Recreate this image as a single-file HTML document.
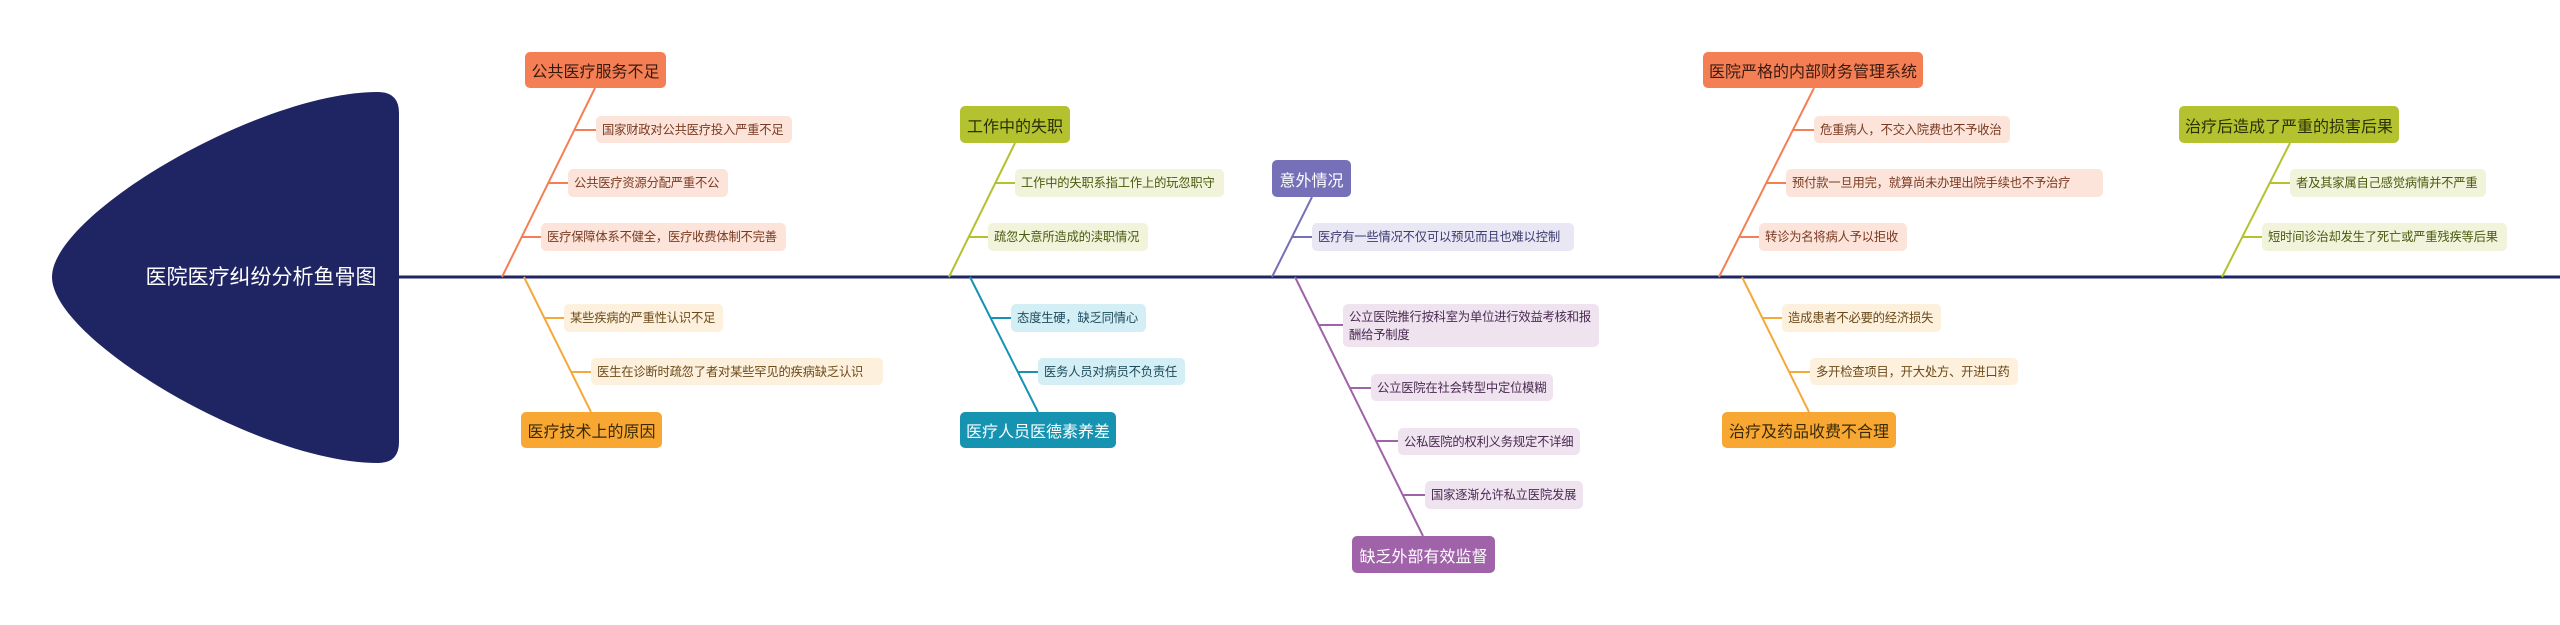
<!DOCTYPE html>
<html><head><meta charset="utf-8"><style>
html,body{margin:0;padding:0;background:#fff;}
#c{position:relative;width:2560px;height:625px;overflow:hidden;font-family:"Liberation Sans","Noto Sans CJK SC",sans-serif;}
svg{position:absolute;left:0;top:0;}
.m{position:absolute;box-sizing:border-box;border-radius:5px;font-size:16px;display:flex;align-items:center;justify-content:center;white-space:nowrap;}
.s{position:absolute;box-sizing:border-box;border-radius:5px;font-size:12.3px;display:flex;align-items:center;padding-left:6px;white-space:nowrap;line-height:18px;letter-spacing:-0.2px;}
</style></head><body><div id="c">
<svg width="2560" height="625">
<path d="M378 92 Q399 92 399 113 L399 442 Q399 463 378 463 C260 463 52 340 52 277 C52 214 260 92 378 92 Z" fill="#1f2563"/>
<line x1="399" y1="277" x2="2560" y2="277" stroke="#1f2563" stroke-width="3"/>
<g fill="none" stroke-width="2">
<g stroke="#f47f54"><line x1="595" y1="88" x2="502" y2="277"/><line x1="574" y1="130" x2="596" y2="130"/><line x1="548" y1="183" x2="568" y2="183"/><line x1="522" y1="237" x2="541" y2="237"/></g>
<g stroke="#f5a93a"><line x1="524" y1="277" x2="591" y2="412"/><line x1="544" y1="318" x2="564" y2="318"/><line x1="571" y1="372" x2="591" y2="372"/></g>
<g stroke="#b3c22e"><line x1="1015" y1="143" x2="949" y2="277"/><line x1="995" y1="183" x2="1015" y2="183"/><line x1="969" y1="237" x2="988" y2="237"/></g>
<g stroke="#1593b0"><line x1="970" y1="277" x2="1038" y2="412"/><line x1="991" y1="318" x2="1011" y2="318"/><line x1="1018" y1="372" x2="1038" y2="372"/></g>
<g stroke="#7570b8"><line x1="1312" y1="197" x2="1272" y2="277"/><line x1="1292" y1="237" x2="1312" y2="237"/></g>
<g stroke="#a062a8"><line x1="1295" y1="277" x2="1423" y2="536"/><line x1="1319" y1="325" x2="1343" y2="325"/><line x1="1350" y1="388" x2="1371" y2="388"/><line x1="1376" y1="441" x2="1398" y2="441"/><line x1="1403" y1="495" x2="1425" y2="495"/></g>
<g stroke="#f47f54"><line x1="1814" y1="88" x2="1719" y2="277"/><line x1="1793" y1="130" x2="1814" y2="130"/><line x1="1766" y1="183" x2="1786" y2="183"/><line x1="1739" y1="237" x2="1759" y2="237"/></g>
<g stroke="#f5a93a"><line x1="1742" y1="277" x2="1809" y2="412"/><line x1="1762" y1="318" x2="1782" y2="318"/><line x1="1789" y1="372" x2="1810" y2="372"/></g>
<g stroke="#b3c22e"><line x1="2290" y1="143" x2="2222" y2="277"/><line x1="2270" y1="183" x2="2290" y2="183"/><line x1="2242" y1="237" x2="2262" y2="237"/></g>
</g>
<text x="261" y="284" fill="#fff" font-size="21" text-anchor="middle" font-family="Liberation Sans, Noto Sans CJK SC, sans-serif">医院医疗纠纷分析鱼骨图</text>
</svg>

<div class="m" style="left:525px;top:52px;width:141px;height:36px;background:#f47f54;color:#3a1a10">公共医疗服务不足</div>
<div class="s" style="left:596px;top:116px;width:196px;height:27px;background:#fce4da;color:#7a3a22">国家财政对公共医疗投入严重不足</div>
<div class="s" style="left:568px;top:169px;width:160px;height:28px;background:#fce4da;color:#7a3a22">公共医疗资源分配严重不公</div>
<div class="s" style="left:541px;top:223px;width:245px;height:28px;background:#fce4da;color:#7a3a22">医疗保障体系不健全，医疗收费体制不完善</div>
<div class="s" style="left:564px;top:304px;width:159px;height:28px;background:#fdf0dc;color:#6b4a1a">某些疾病的严重性认识不足</div>
<div class="s" style="left:591px;top:358px;width:292px;height:27px;background:#fdf0dc;color:#6b4a1a">医生在诊断时疏忽了者对某些罕见的疾病缺乏认识</div>
<div class="m" style="left:521px;top:412px;width:141px;height:36px;background:#f8a832;color:#3a2a0a">医疗技术上的原因</div>

<div class="m" style="left:960px;top:106px;width:110px;height:37px;background:#b3c22e;color:#2a3005">工作中的失职</div>
<div class="s" style="left:1015px;top:169px;width:209px;height:28px;background:#f1f4db;color:#4a5a10">工作中的失职系指工作上的玩忽职守</div>
<div class="s" style="left:988px;top:223px;width:160px;height:28px;background:#f1f4db;color:#4a5a10">疏忽大意所造成的渎职情况</div>
<div class="s" style="left:1011px;top:304px;width:135px;height:28px;background:#d3eef5;color:#1d4a5a">态度生硬，缺乏同情心</div>
<div class="s" style="left:1038px;top:358px;width:147px;height:27px;background:#d3eef5;color:#1d4a5a">医务人员对病员不负责任</div>
<div class="m" style="left:960px;top:412px;width:156px;height:36px;background:#1593b0;color:#fff">医疗人员医德素养差</div>

<div class="m" style="left:1272px;top:160px;width:79px;height:37px;background:#7570b8;color:#fff">意外情况</div>
<div class="s" style="left:1312px;top:223px;width:262px;height:28px;background:#e8e7f3;color:#3d3a70">医疗有一些情况不仅可以预见而且也难以控制</div>
<div class="s" style="left:1343px;top:304px;width:256px;height:43px;background:#efe3f0;color:#4a2a50;white-space:normal;padding-right:2px">公立医院推行按科室为单位进行效益考核和报酬给予制度</div>
<div class="s" style="left:1371px;top:374px;width:182px;height:27px;background:#efe3f0;color:#4a2a50">公立医院在社会转型中定位模糊</div>
<div class="s" style="left:1398px;top:428px;width:182px;height:27px;background:#efe3f0;color:#4a2a50">公私医院的权利义务规定不详细</div>
<div class="s" style="left:1425px;top:481px;width:158px;height:28px;background:#efe3f0;color:#4a2a50">国家逐渐允许私立医院发展</div>
<div class="m" style="left:1352px;top:536px;width:143px;height:37px;background:#a062a8;color:#fff">缺乏外部有效监督</div>

<div class="m" style="left:1703px;top:52px;width:220px;height:36px;background:#f47f54;color:#3a1a10">医院严格的内部财务管理系统</div>
<div class="s" style="left:1814px;top:116px;width:196px;height:27px;background:#fce4da;color:#7a3a22">危重病人，不交入院费也不予收治</div>
<div class="s" style="left:1786px;top:169px;width:317px;height:28px;background:#fce4da;color:#7a3a22">预付款一旦用完，就算尚未办理出院手续也不予治疗</div>
<div class="s" style="left:1759px;top:223px;width:148px;height:28px;background:#fce4da;color:#7a3a22">转诊为名将病人予以拒收</div>
<div class="s" style="left:1782px;top:304px;width:159px;height:28px;background:#fdf0dc;color:#6b4a1a">造成患者不必要的经济损失</div>
<div class="s" style="left:1810px;top:358px;width:208px;height:27px;background:#fdf0dc;color:#6b4a1a">多开检查项目，开大处方、开进口药</div>
<div class="m" style="left:1722px;top:412px;width:174px;height:36px;background:#f8a832;color:#3a2a0a">治疗及药品收费不合理</div>

<div class="m" style="left:2179px;top:106px;width:220px;height:37px;background:#b3c22e;color:#2a3005">治疗后造成了严重的损害后果</div>
<div class="s" style="left:2290px;top:169px;width:196px;height:28px;background:#f1f4db;color:#4a5a10">者及其家属自己感觉病情并不严重</div>
<div class="s" style="left:2262px;top:223px;width:245px;height:28px;background:#f1f4db;color:#4a5a10">短时间诊治却发生了死亡或严重残疾等后果</div>
</div></body></html>
